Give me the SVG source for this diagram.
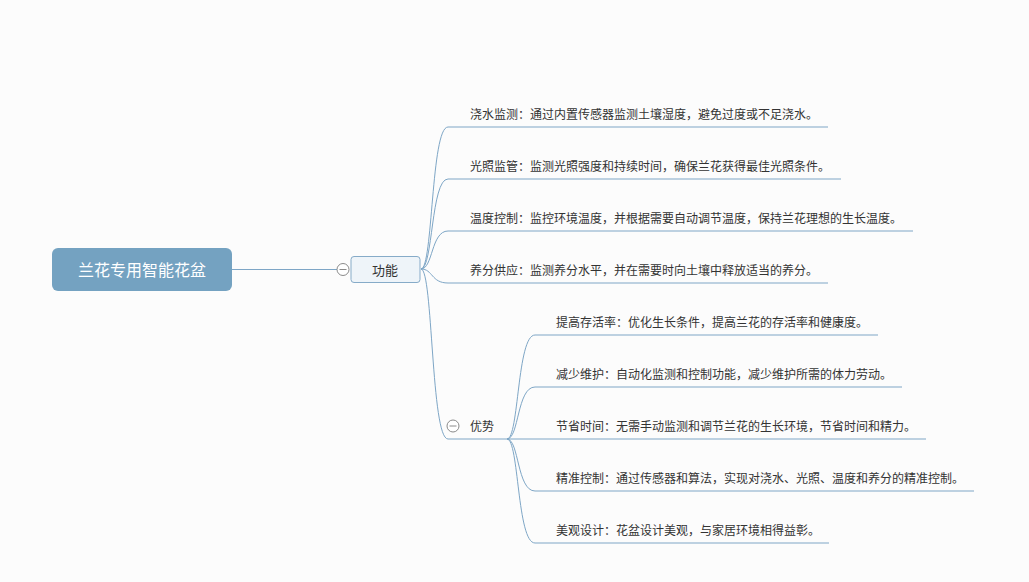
<svg xmlns="http://www.w3.org/2000/svg" width="1029" height="582" viewBox="0 0 1029 582">
<style>
.bg{fill:#fcfcfc}
.ln{fill:none;stroke:#7ea6c6;stroke-width:1}
.t{font-family:"Microsoft YaHei","Noto Sans CJK SC","Noto Sans",sans-serif;font-size:12px;fill:#333}
.root{fill:#74a2c1}
.rt{font-family:"Microsoft YaHei","Noto Sans CJK SC","Noto Sans",sans-serif;font-size:16px;fill:#ffffff;text-anchor:middle}
.sub{fill:#eef4f9;stroke:#86abc8;stroke-width:1}
.st{font-family:"Microsoft YaHei","Noto Sans CJK SC","Noto Sans",sans-serif;font-size:13px;fill:#333;text-anchor:middle}
.col{fill:#ffffff;stroke:#8a8a8a;stroke-width:1}
.mi{stroke:#8a8a8a;stroke-width:1}
</style>
<rect class="bg" x="0" y="0" width="1029" height="582"/>
<g id="connectors">
<path class="ln" d="M232,269.5 H337"/>
<path class="ln" d="M421,269 C433,269 431,127 448,127 H828"/>
<path class="ln" d="M421,269 C433,269 431,179 448,179 H841"/>
<path class="ln" d="M421,269 C433,269 431,231 448,231 H913"/>
<path class="ln" d="M421,269 C433,269 431,283 448,283 H828"/>
<path class="ln" d="M421,269 C433,269 431,439 448,439 H507"/>
<path class="ln" d="M507,439 C519,439 517,335 535,335 H878"/>
<path class="ln" d="M507,439 C519,439 517,387 535,387 H902"/>
<path class="ln" d="M507,439 H926"/>
<path class="ln" d="M507,439 C519,439 517,491 535,491 H974"/>
<path class="ln" d="M507,439 C519,439 517,543 535,543 H829"/>
</g>
<g id="root">
<rect class="root" x="52" y="248" width="180" height="43" rx="6"/>
<text class="rt" x="142" y="275.5">兰花专用智能花盆</text>
</g>
<g id="func">
<circle class="col" cx="343" cy="269.5" r="6"/>
<line class="mi" x1="339.5" y1="269.5" x2="346.5" y2="269.5"/>
<rect class="sub" x="351" y="256.5" width="69" height="26" rx="3"/>
<text class="st" x="385" y="274.5">功能</text>
</g>
<g id="f1"><text class="t" x="470" y="119">浇水监测：通过内置传感器监测土壤湿度，避免过度或不足浇水。</text></g>
<g id="f2"><text class="t" x="470" y="171">光照监管：监测光照强度和持续时间，确保兰花获得最佳光照条件。</text></g>
<g id="f3"><text class="t" x="470" y="223">温度控制：监控环境温度，并根据需要自动调节温度，保持兰花理想的生长温度。</text></g>
<g id="f4"><text class="t" x="470" y="275">养分供应：监测养分水平，并在需要时向土壤中释放适当的养分。</text></g>
<g id="adv">
<circle class="col" cx="453" cy="426" r="6"/>
<line class="mi" x1="449.5" y1="426" x2="456.5" y2="426"/>
<text class="t" x="470" y="431">优势</text>
</g>
<g id="a1"><text class="t" x="556" y="327">提高存活率：优化生长条件，提高兰花的存活率和健康度。</text></g>
<g id="a2"><text class="t" x="556" y="379">减少维护：自动化监测和控制功能，减少维护所需的体力劳动。</text></g>
<g id="a3"><text class="t" x="556" y="431">节省时间：无需手动监测和调节兰花的生长环境，节省时间和精力。</text></g>
<g id="a4"><text class="t" x="556" y="483">精准控制：通过传感器和算法，实现对浇水、光照、温度和养分的精准控制。</text></g>
<g id="a5"><text class="t" x="556" y="535">美观设计：花盆设计美观，与家居环境相得益彰。</text></g>
</svg>
